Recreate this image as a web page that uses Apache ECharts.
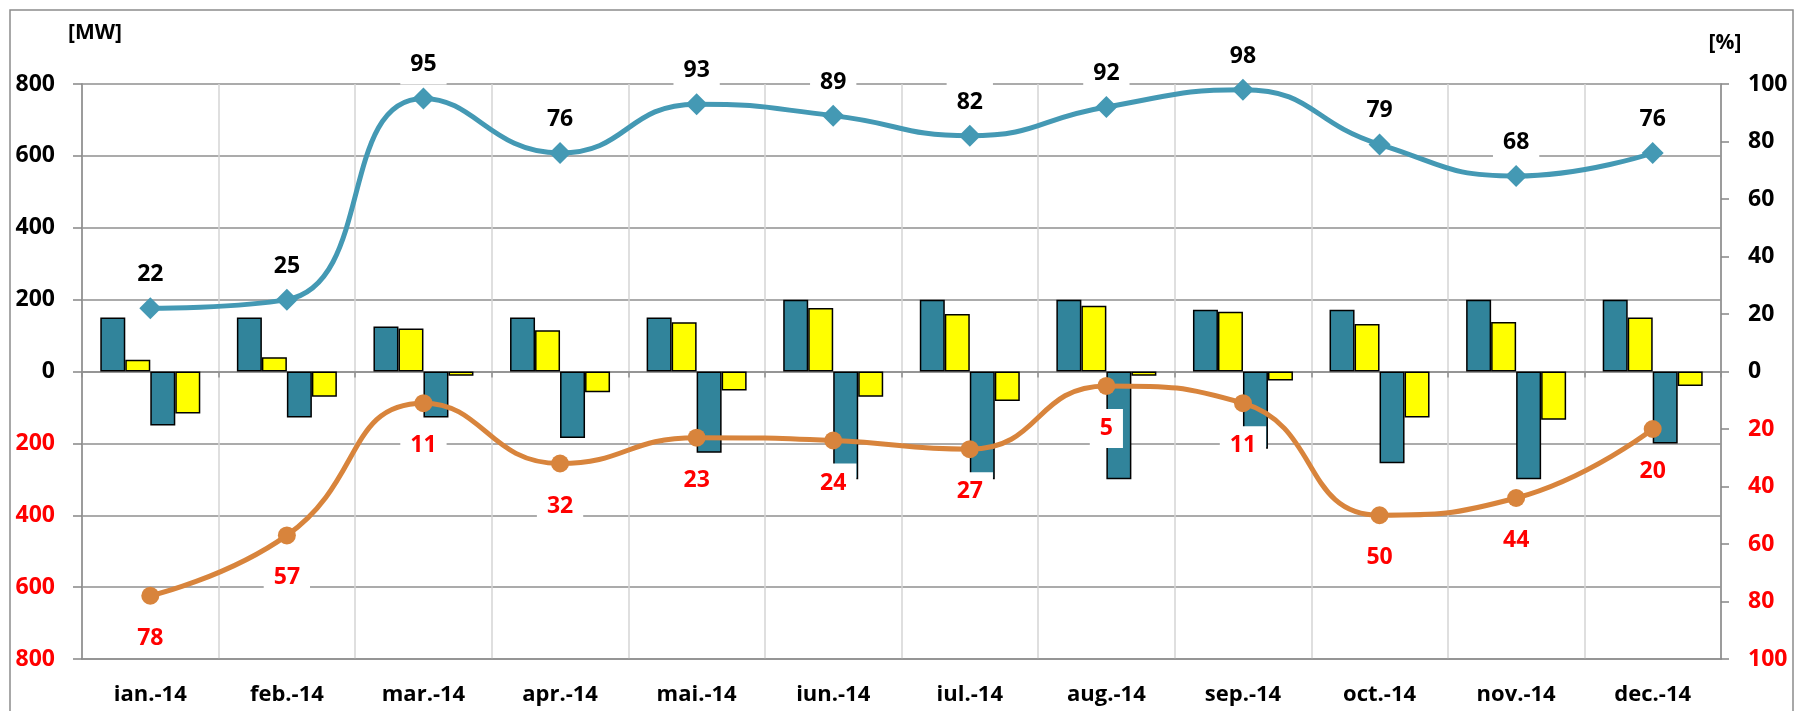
<!DOCTYPE html>
<html>
<head>
<meta charset="utf-8">
<script src="https://cdn.jsdelivr.net/npm/echarts@6/dist/echarts.min.js"></script>
<style>
  html, body { margin: 0; padding: 0; background: #fff; }
  #chart { width: 1795px; height: 711px; }
</style>
</head>
<body>
<div id="chart"></div>
<script>
const months = ['ian.-14', 'feb.-14', 'mar.-14', 'apr.-14', 'mai.-14', 'iun.-14',
  'iul.-14', 'aug.-14', 'sep.-14', 'oct.-14', 'nov.-14', 'dec.-14']

// MW bars
const tealUp = [150, 150, 125, 150, 150, 200, 200, 200, 172, 172, 200, 200]
const yellowUp = [33, 40, 120, 115, 137, 177, 160, 183, 166, 132, 138, 150]
const tealDown = [-150, -128, -128, -185, -226, -300, -300, -300, -215, -255, -300, -200]
const yellowDown = [-117, -70, -12, -58, -53, -70, -82, -12, -25, -128, -134, -40]

// percentages, right axis (upper line above zero, lower line drawn below zero)
const pctUpper = [22, 25, 95, 76, 93, 89, 82, 92, 98, 79, 68, 76]
const pctLower = [78, 57, 11, 32, 23, 24, 27, 5, 11, 50, 44, 20]

const mwTicks = { min: -800, max: 800, interval: 200 }
const pctTicks = { min: -100, max: 100, interval: 20 }

const font = 'Open Sans'
const gridGray = '#8f8f8f'
const signColor = v => (v < 0 ? '#ff0000' : '#000')

const chart = echarts.init(document.getElementById('chart'))

const barStyle = color => ({ color: color, borderColor: '#000', borderWidth: 1.5 })

const option = {
  animation: false,
  backgroundColor: '#fff',
  graphic: [{
    type: 'rect',
    shape: { x: 10, y: 10, width: 1783, height: 720 },
    style: { fill: 'none', stroke: '#8c8c8c', lineWidth: 1.5 },
    silent: true
  }],
  grid: { left: 82, right: 74, top: 84, bottom: 52, containLabel: false, outerBoundsMode: 'none' },
  xAxis: [
    {
      type: 'category',
      data: months,
      position: 'bottom',
      axisLine: { onZero: false, lineStyle: { color: gridGray, width: 1.5 } },
      axisTick: { show: false },
      axisLabel: { margin: 25, color: '#000', fontSize: 22, fontWeight: 'bold', fontFamily: font },
      splitLine: { show: true, lineStyle: { color: '#d4d4d4', width: 1.5 } }
    },
    {
      type: 'category',
      data: months,
      position: 'top',
      axisLine: { onZero: true, onZeroAxisIndex: 0, lineStyle: { color: gridGray, width: 1.5 } },
      axisTick: { show: true, inside: true, length: 6, lineStyle: { color: gridGray, width: 1.5 } },
      axisLabel: { show: false },
      splitLine: { show: false }
    }
  ],
  yAxis: [
    {
      type: 'value',
      min: mwTicks.min,
      max: mwTicks.max,
      interval: mwTicks.interval,
      name: '[MW]',
      nameLocation: 'end',
      nameGap: 40,
      nameTextStyle: { color: '#000', fontSize: 21, fontWeight: 'bold', fontFamily: font, align: 'center', padding: [0, 0, 0, 26] },
      axisLine: { show: true, lineStyle: { color: '#868686', width: 1.5 } },
      axisTick: { show: true, length: 9, lineStyle: { color: '#868686', width: 1.5 } },
      axisLabel: {
        margin: 27,
        fontSize: 23,
        fontWeight: 'bold',
        fontFamily: font,
        color: signColor,
        formatter: v => String(Math.abs(v))
      },
      splitLine: { show: true, lineStyle: { color: gridGray, width: 1.5 } }
    },
    {
      type: 'value',
      min: pctTicks.min,
      max: pctTicks.max,
      interval: pctTicks.interval,
      name: '[%]',
      nameLocation: 'end',
      nameGap: 30,
      nameTextStyle: { color: '#000', fontSize: 21, fontWeight: 'bold', fontFamily: font, align: 'center', padding: [0, 0, 0, 8] },
      axisLine: { show: true, lineStyle: { color: '#868686', width: 1.5 } },
      axisTick: { show: true, length: 8, lineStyle: { color: '#868686', width: 1.5 } },
      axisLabel: {
        margin: 27,
        fontSize: 23,
        fontWeight: 'bold',
        fontFamily: font,
        color: signColor,
        formatter: v => String(Math.abs(v))
      },
      splitLine: { show: false }
    }
  ],
  series: [
    { type: 'bar', data: tealUp, barWidth: 25, barGap: '0%', itemStyle: barStyle('#31849b') },
    { type: 'bar', data: yellowUp, barWidth: 25, barGap: '0%', itemStyle: barStyle('#ffff00') },
    { type: 'bar', data: tealDown, barWidth: 25, barGap: '0%', itemStyle: barStyle('#31849b') },
    { type: 'bar', data: yellowDown, barWidth: 25, barGap: '0%', itemStyle: barStyle('#ffff00') },
    {
      type: 'line',
      yAxisIndex: 1,
      data: pctUpper,
      smooth: 0.5,
      symbol: 'diamond',
      symbolSize: 22,
      lineStyle: { color: '#4499b4', width: 5 },
      itemStyle: { color: '#4499b4' },
      label: {
        show: true,
        position: 'top',
        distance: 3,
        color: '#000',
        fontSize: 23,
        fontWeight: 'bold',
        fontFamily: font,
        backgroundColor: '#fff',
        padding: [8, 10]
      },
      z: 5
    },
    {
      type: 'line',
      yAxisIndex: 1,
      data: pctLower.map(v => -v),
      smooth: 0.5,
      symbol: 'circle',
      symbolSize: 18,
      lineStyle: { color: '#d8843c', width: 5 },
      itemStyle: { color: '#d8843c' },
      label: {
        show: true,
        position: 'bottom',
        distance: 14,
        color: '#ff0000',
        fontSize: 23,
        fontWeight: 'bold',
        fontFamily: font,
        backgroundColor: '#fff',
        padding: [8, 10],
        formatter: p => String(Math.abs(p.value))
      },
      z: 5
    }
  ]
}

chart.setOption(option)
</script>
</body>
</html>
